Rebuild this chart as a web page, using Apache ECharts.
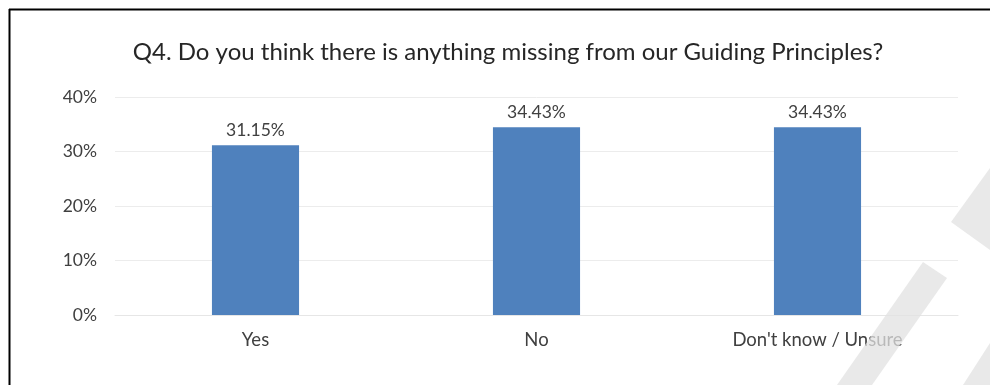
<!DOCTYPE html>
<html>
<head>
<meta charset="utf-8">
<script src="https://cdn.jsdelivr.net/npm/echarts@6/dist/echarts.min.js"></script>
<style>
  html, body { margin: 0; padding: 0; background: #fff; }
  #chart { width: 990px; height: 385px; }
</style>
</head>
<body>
<div id="chart"></div>
<script>
// Survey answers and their shares (percent)
const categories = ['Yes', 'No', "Don't know / Unsure"];
const shares = [31.15, 34.43, 34.43];
const yTicks = [0, 10, 20, 30, 40];

const FONT = 'Lato, "Open Sans", sans-serif';
const chart = echarts.init(document.getElementById('chart'), null, { renderer: 'canvas' });

const stripe = '#e2e2e2';

chart.setOption({
  animation: false,
  backgroundColor: '#ffffff',
  title: {
    text: 'Q4. Do you think there is anything missing from our Guiding Principles?',
    left: 503,
    textAlign: 'center',
    top: 35,
    textStyle: { fontFamily: FONT, fontSize: 24, fontWeight: 'normal', color: '#262626' }
  },
  grid: { left: 115, right: 32, top: 97, bottom: 70 },
  xAxis: {
    type: 'category',
    data: categories,
    axisLine: { show: true, lineStyle: { color: '#e6e6e6', width: 1 } },
    axisTick: { show: false },
    axisLabel: { fontFamily: FONT, fontSize: 18.5, color: '#404040', margin: 16 }
  },
  yAxis: {
    type: 'value',
    min: yTicks[0],
    max: yTicks[yTicks.length - 1],
    interval: 10,
    axisLine: { show: false },
    axisTick: { show: false },
    splitLine: { lineStyle: { color: '#ececec', width: 1 } },
    axisLabel: { fontFamily: FONT, fontSize: 17.5, color: '#404040', margin: 18, formatter: v => v + '%' }
  },
  series: [{
    type: 'bar',
    data: shares,
    barWidth: '31%',
    itemStyle: { color: '#4f81bd' },
    label: {
      show: true,
      position: 'top',
      distance: 6,
      fontFamily: FONT,
      fontSize: 17.5,
      color: '#404040',
      formatter: p => p.value.toFixed(2) + '%'
    }
  }],
  graphic: [
    // frame lines along the top and left edges
    { type: 'line', shape: { x1: 9, y1: 9.5, x2: 990, y2: 9.5 }, style: { stroke: '#000', lineWidth: 2 }, z: 100 },
    { type: 'line', shape: { x1: 9.5, y1: 9, x2: 9.5, y2: 385 }, style: { stroke: '#000', lineWidth: 2 }, z: 100 },
    // light diagonal stripes over the lower right corner
    { type: 'polygon', shape: { points: [[923, 262], [947, 278], [872, 385], [837, 385]] }, style: { fill: stripe, opacity: 0.75 }, z: 90 },
    { type: 'polygon', shape: { points: [[951, 222], [990, 168], [990, 250]] }, style: { fill: stripe, opacity: 0.75 }, z: 90 },
    { type: 'polygon', shape: { points: [[963, 385], [990, 343], [990, 385]] }, style: { fill: stripe, opacity: 0.75 }, z: 90 }
  ]
});
</script>
</body>
</html>
